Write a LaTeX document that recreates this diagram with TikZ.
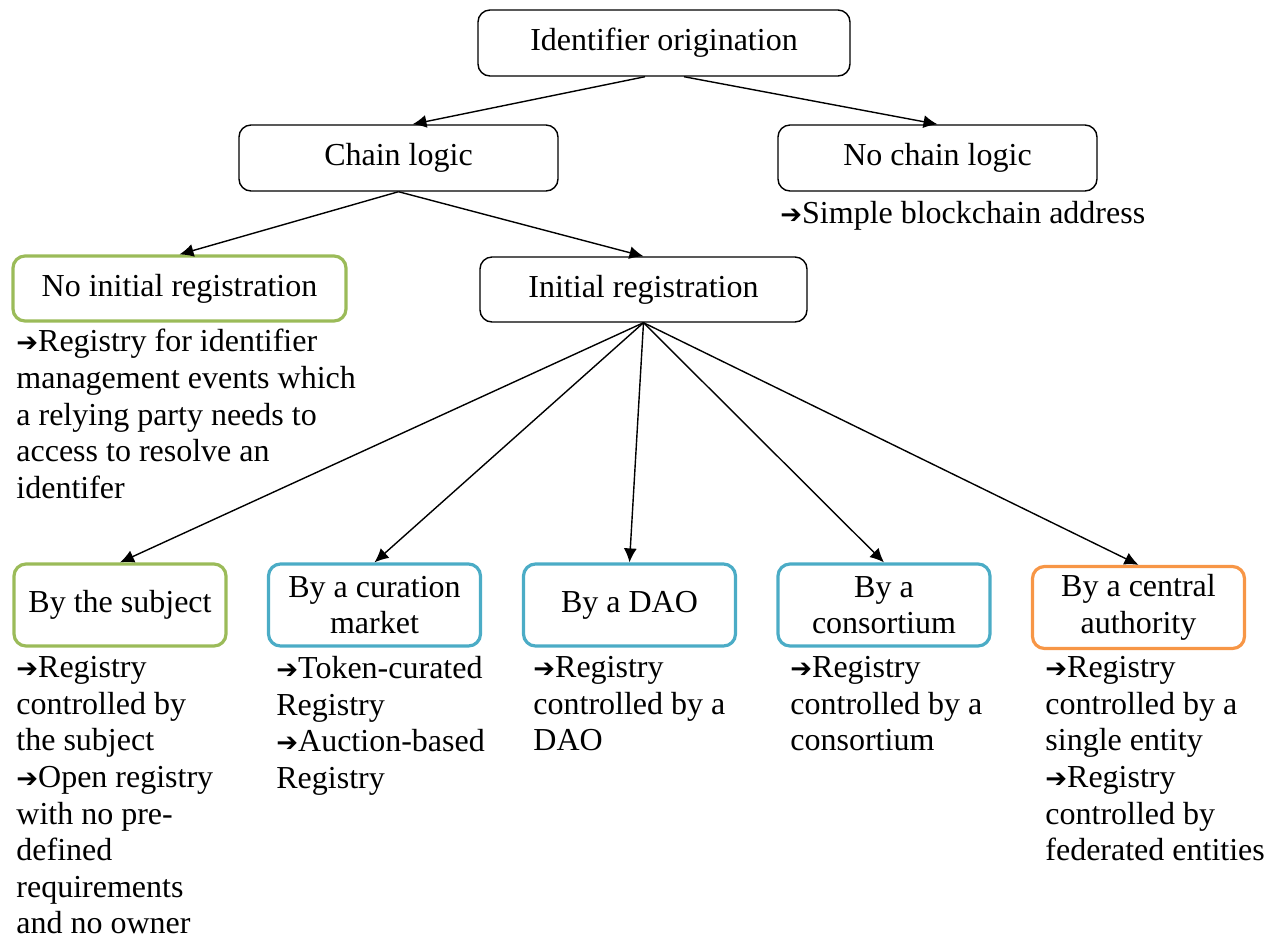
\documentclass[tikz,border=0pt]{standalone}
\usepackage{fontspec}
\setmainfont{Liberation Serif}
\newfontfamily\symfont{DejaVu Sans}
\usetikzlibrary{arrows.meta,positioning}
\definecolor{ogreen}{HTML}{9BBB59}
\definecolor{oblue}{HTML}{4BACC6}
\definecolor{oorange}{HTML}{F79646}
\tikzset{box/.style={draw, rounded corners=6pt, line width=0.7pt, align=center, inner sep=0pt}}
\tikzset{cbox/.style={box, line width=1.6pt}}
\tikzset{arr/.style={draw, line width=0.7pt, -{Latex[length=7pt,width=6.5pt]}}}
\tikzset{note/.style={align=left, inner sep=0pt, anchor=north west, execute at begin node=\strut}}
\newcommand{\arrowmark}{{\symfont\fontsize{13}{13}\selectfont ➔}}

\begin{document}
\begin{tikzpicture}[x=0.5pt, y=-0.5pt, font=\fontsize{16}{18.3}\selectfont]
		\useasboundingbox (0,0) rectangle (1276,939);
		
		\node[box, minimum width=186pt, minimum height=33pt] (orig) at (664,43) {Identifier origination};
		
		\node[box, minimum width=159.5pt, minimum height=33pt] (chain) at (398.5,158) {Chain logic};
		\node[box, minimum width=159.5pt, minimum height=33pt] (nochain) at (937.5,158) {No chain logic};
		\node[note] (simple) at (780,197) {\arrowmark Simple blockchain address};
		
		\node[cbox, ogreen, text=black, minimum width=166.5pt, minimum height=32.5pt] (noinit) at (179.5,288.5) {No initial registration};
		\node[box, minimum width=163.5pt, minimum height=32.5pt] (init) at (643.5,289.5) {Initial registration};
		\node[note] (noinitnote) at (16,329) {\arrowmark Registry for identifier\\management events which\\a relying party needs to\\access to resolve an\\identifer};
		
		% second level
		\begin{scope}[every node/.append style={minimum width=106pt, minimum height=41pt}]
			\node[cbox, ogreen, text=black] (subj) at (120,605) {By the subject};
			\node[cbox, oblue, text=black] (cur) at (374.5,605) {By a curation\\market};
			\node[cbox, oblue, text=black] (dao) at (629.5,605) {By a DAO};
			\node[cbox, oblue, text=black] (cons) at (884,605) {By a\\consortium};
			\node[cbox, oorange, text=black] (cent) at (1138.5,607.5) {By a central\\authority};
		\end{scope}
		
		\node[note] (subjnote) at (16,656) {\arrowmark Registry\\controlled by\\the subject\\\arrowmark Open registry\\with no pre-\\defined\\requirements\\and no owner};
		\node[note] (curnote) at (276,656) {\arrowmark Token-curated\\Registry\\\arrowmark Auction-based\\Registry};
		\node[note] (daonote) at (533,656) {\arrowmark Registry\\controlled by a\\DAO};
		\node[note] (consnote) at (790,656) {\arrowmark Registry\\controlled by a\\consortium};
		\node[note] (centnote) at (1045,656) {\arrowmark Registry\\controlled by a\\single entity\\\arrowmark Registry\\controlled by\\federated entities};
		
		\draw[arr] ([xshift=-9.5pt]orig.south) -- ([xshift=7pt]chain.north);
		\draw[arr] ([xshift=10pt]orig.south) -- (nochain.north);
		\draw[arr] (chain.south) -- (noinit.north);
		\draw[arr] (chain.south) -- (init.north);
		\foreach \t in {subj,cur,dao,cons,cent}
			\draw[arr] (init.south) -- (\t.north);
	\end{tikzpicture}
\end{document}
